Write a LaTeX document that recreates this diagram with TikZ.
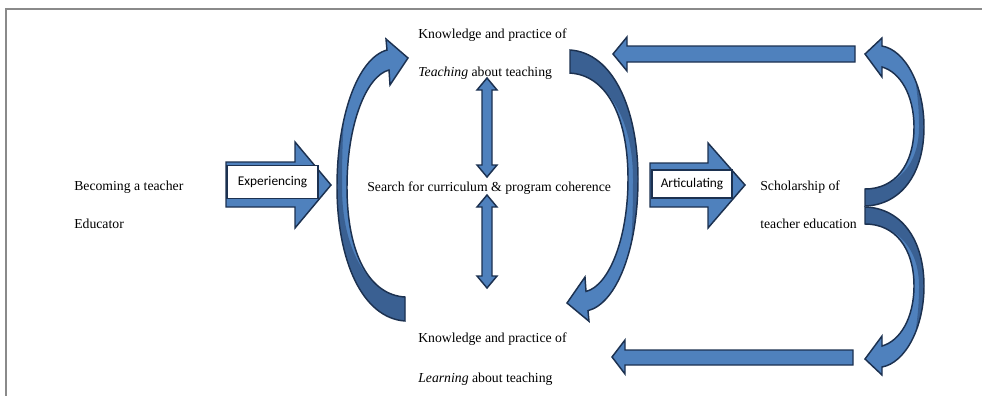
\documentclass[tikz,border=0pt]{standalone}
\usepackage{fontspec}
\setmainfont{Liberation Serif}
\newfontfamily\labelfont{Carlito}
\definecolor{bandLight}{HTML}{4F81BD}
\definecolor{bandDark}{HTML}{3A6092}
\definecolor{edgeNavy}{HTML}{1C3150}
\definecolor{frameGray}{HTML}{8A8A8A}
\tikzset{
  blockarrow/.style={fill=bandLight, draw=edgeNavy, line width=1.1pt, line join=miter},
  labelbox/.style={draw=edgeNavy, line width=1pt, fill=white, inner sep=0pt,
    font=\labelfont\fontsize{10}{12}\selectfont},
  txt/.style={anchor=base west, inner sep=0pt, font=\fontsize{10.3}{12}\selectfont},
}
% curved arrow bending out to the left, head on top pointing right
\newcommand\leftbend[1]{\path[#1] (405,321) .. controls (362,318) and (337,260) .. (337,187)
  .. controls (337,115) and (358,58) .. (387,50) -- (386,39) -- (408,58) -- (390,85) -- (389,70)
  .. controls (366,76) and (347,125) .. (347,187) .. controls (347,255) and (370,295) .. (405,297) -- cycle;}
\newcommand\leftbendback{\path[fill=bandDark] (405,297) .. controls (368,293) and (342,250) .. (342,187)
  .. controls (342,150) and (343,130) .. (345,105) -- (300,105) -- (300,340) -- (420,340) -- (420,297) -- cycle;}
% curved arrow bending out to the right, head on top pointing left
\newcommand\rightbend[1]{\path[#1] (865,206) .. controls (900,205) and (924,175) .. (924,127)
  .. controls (924,85) and (905,50) .. (882,46) -- (882,38) -- (865,54) -- (882,77) -- (882,67)
  .. controls (900,72) and (914,95) .. (914,127) .. controls (914,165) and (895,189) .. (865,189) -- cycle;}
\newcommand\rightbendback{\path[fill=bandDark] (865,189) .. controls (897,188) and (919,165) .. (919,127)
  .. controls (919,110) and (918,100) .. (916,85) -- (950,85) -- (950,230) -- (850,230) -- (850,189) -- cycle;}
\newcommand\drawbend[2]{%
  #1{fill=bandLight}
  \begin{scope}#1{clip}#2\end{scope}
  #1{draw=edgeNavy, line width=1.1pt, line join=miter}}
\begin{document}
\begin{tikzpicture}[x=0.75pt, y=-0.75pt]
\useasboundingbox (0,0) rectangle (982,396);
% page frame
\draw[frameGray, line width=1.5pt] (6,396) -- (6,9) -- (982,9);

% texts
\node[txt] (becoming) at (74,190) {Becoming a teacher};
\node[txt] (educator) at (74,228) {Educator};
\node[txt] (knowTop) at (418,38) {Knowledge and practice of};
\node[txt] (teaching) at (418,76) {\textit{Teaching} about teaching};
\node[txt] (search) at (367,191) {Search for curriculum \& program coherence};
\node[txt] (knowBot) at (418,342) {Knowledge and practice of};
\node[txt] (learning) at (418,382) {\textit{Learning} about teaching};
\node[txt] (scholar) at (760,190) {Scholarship of};
\node[txt] (teachered) at (760,228) {teacher education};

% Experiencing arrow
\path[blockarrow] (226,162) -- (295,162) -- (295,142) -- (331,185) -- (295,228) -- (295,207) -- (226,207) -- cycle;
\node[labelbox, minimum width=68.25pt, minimum height=24.75pt] (exp) at (272.5,182) {Experiencing};

% Articulating arrow
\path[blockarrow] (650,163) -- (708,163) -- (708,143) -- (745,185) -- (708,228) -- (708,207) -- (650,207) -- cycle;
\node[labelbox, minimum width=60pt, minimum height=21pt] (art) at (692,184) {Articulating};

% vertical double arrows
\path[blockarrow] (482,90) -- (477,90) -- (487,78) -- (497,90) -- (492,90) -- (492,165) -- (497,165)
  -- (487,177) -- (477,165) -- (482,165) -- cycle;
\path[blockarrow] (482,207) -- (477,207) -- (487,195) -- (497,207) -- (492,207) -- (492,276) -- (497,276)
  -- (487,288) -- (477,276) -- (482,276) -- cycle;

% horizontal return arrows
\path[blockarrow] (855,46) -- (627,46) -- (627,37) -- (613,54) -- (627,71) -- (627,62) -- (855,62) -- cycle;
\path[blockarrow] (853,350) -- (625,350) -- (625,340) -- (612,357) -- (625,374) -- (625,365) -- (853,365) -- cycle;

% left curved arrow
\begin{scope}
  \drawbend{\leftbend}{\leftbendback}
\end{scope}
% right curved arrow of the cycle
\begin{scope}[shift={(975,358.8)}, xscale=-1, yscale=-0.962]
  \drawbend{\leftbend}{\leftbendback}
\end{scope}
% outer bracket arrows
\begin{scope}
  \drawbend{\rightbend}{\rightbendback}
\end{scope}
\begin{scope}[shift={(0,413)}, yscale=-1]
  \drawbend{\rightbend}{\rightbendback}
\end{scope}
\end{tikzpicture}
\end{document}
